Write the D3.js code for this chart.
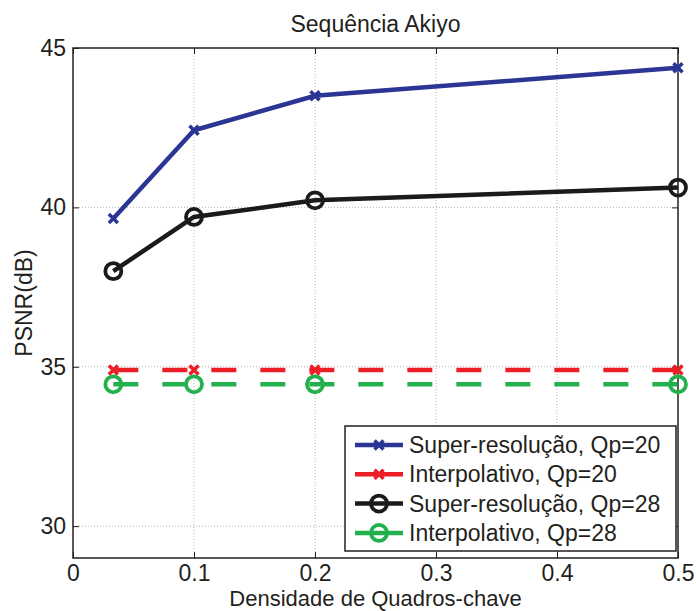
<!DOCTYPE html>
<html lang="pt">
<head>
<meta charset="UTF-8">
<title>Sequência Akiyo</title>
<script src="https://d3js.org/d3.v7.min.js"></script>
<style>
    body { margin: 0; background: #fff; }
    svg text { font-family: "Liberation Sans", Arial, sans-serif; fill: #231f20; }
</style>
</head>
<body>
<svg id="chart" width="696" height="611"></svg>
<script>
    // data
    const densities = [1 / 30, 0.1, 0.2, 0.5];
    const superQp20 = [39.65, 42.42, 43.5, 44.38];
    const interpQp20 = [34.9, 34.9, 34.9, 34.9];
    const superQp28 = [38.0, 39.7, 40.22, 40.62];
    const interpQp28 = [34.45, 34.45, 34.45, 34.45];
    const xTicks = [0, 0.1, 0.2, 0.3, 0.4, 0.5];
    const yTicks = [30, 35, 40, 45];

    const series = [
        { name: "Super-resolução, Qp=20", values: superQp20, color: "#2b3594", marker: "x", dashed: false },
        { name: "Interpolativo, Qp=20", values: interpQp20, color: "#ec1f27", marker: "x", dashed: true },
        { name: "Super-resolução, Qp=28", values: superQp28, color: "#1c1a1b", marker: "o", dashed: false },
        { name: "Interpolativo, Qp=28", values: interpQp28, color: "#22b14c", marker: "o", dashed: true }
    ];

    const margin = { left: 73, right: 18, top: 48, bottom: 53 };
    const W = 696, H = 611;
    const FS = 23;
    const svg = d3.select("#chart");

    const x = d3.scaleLinear().domain([0, 0.5]).range([margin.left, W - margin.right]);
    const y = d3.scaleLinear().domain([29, 45]).range([H - margin.bottom, margin.top]);

    // grid
    const grid = svg.append("g").attr("stroke", "#b5b5b5").attr("stroke-width", 1).attr("stroke-dasharray", "1,2");
    grid.selectAll(".gx").data(xTicks.slice(1, -1)).join("line")
        .attr("x1", d => x(d)).attr("x2", d => x(d))
        .attr("y1", y.range()[0]).attr("y2", y.range()[1]);
    grid.selectAll(".gy").data(yTicks.filter(d => d < 45)).join("line")
        .attr("y1", d => y(d)).attr("y2", d => y(d))
        .attr("x1", x.range()[0]).attr("x2", x.range()[1]);

    // axes (matlab style: inward ticks on all sides)
    const tick = 6;
    svg.append("g").attr("transform", `translate(0,${y(29)})`)
        .call(d3.axisBottom(x).tickValues(xTicks).tickSize(-tick).tickPadding(6.5).tickFormat(d3.format("")))
        .call(g => g.select(".domain").remove());
    svg.append("g").attr("transform", `translate(0,${y(45)})`)
        .call(d3.axisTop(x).tickValues(xTicks).tickSize(-tick).tickFormat(""))
        .call(g => g.select(".domain").remove());
    svg.append("g").attr("transform", `translate(${x(0)},0)`)
        .call(d3.axisLeft(y).tickValues(yTicks).tickSize(-tick).tickPadding(7))
        .call(g => g.select(".domain").remove());
    svg.append("g").attr("transform", `translate(${x(0.5)},0)`)
        .call(d3.axisRight(y).tickValues(yTicks).tickSize(-tick).tickFormat(""))
        .call(g => g.select(".domain").remove());
    svg.selectAll(".tick line").attr("stroke", "#231f20").attr("stroke-width", 1);
    svg.selectAll(".tick text").attr("font-size", FS).attr("fill", "#231f20")
        .style("font-family", "'Liberation Sans', Arial, sans-serif");

    svg.append("rect")
        .attr("x", x(0)).attr("y", y(45))
        .attr("width", x(0.5) - x(0)).attr("height", y(29) - y(45))
        .attr("fill", "none").attr("stroke", "#231f20").attr("stroke-width", 1.5);

    // titles
    svg.append("text").attr("x", (x(0) + x(0.5)) / 2).attr("y", 32)
        .attr("text-anchor", "middle").attr("font-size", FS).text("Sequência Akiyo");
    svg.append("text").attr("x", (x(0) + x(0.5)) / 2).attr("y", 606)
        .attr("text-anchor", "middle").attr("font-size", 22).text("Densidade de Quadros-chave");
    svg.append("text")
        .attr("transform", `translate(32,${(y(29) + y(45)) / 2}) rotate(-90)`)
        .attr("text-anchor", "middle").attr("font-size", FS).text("PSNR(dB)");

    function drawMarker(g, kind, color, cx, cy) {
        if (kind === "x") {
            const s = 4.5;
            g.append("path")
                .attr("d", `M${cx - s},${cy - s}L${cx + s},${cy + s}M${cx - s},${cy + s}L${cx + s},${cy - s}`)
                .attr("stroke", color).attr("stroke-width", 3.5).attr("fill", "none");
        } else {
            g.append("circle").attr("cx", cx).attr("cy", cy).attr("r", 8)
                .attr("stroke", color).attr("stroke-width", 3.8).attr("fill", "none");
        }
    }

    const line = d3.line().x((d, i) => x(densities[i])).y(d => y(d));
    const plot = svg.append("g");
    series.forEach(s => {
        plot.append("path").datum(s.values)
            .attr("d", line)
            .attr("fill", "none").attr("stroke", s.color).attr("stroke-width", 4.5)
            .attr("stroke-dasharray", s.dashed ? "25,24" : null);
        s.values.forEach((v, i) => drawMarker(plot, s.marker, s.color, x(densities[i]), y(v)));
    });

    // legend
    const lg = svg.append("g").attr("transform", "translate(345,426)");
    lg.append("rect").attr("width", 331).attr("height", 125)
        .attr("fill", "#fff").attr("stroke", "#231f20").attr("stroke-width", 1.5);
    series.forEach((s, i) => {
        const ly = 19 + i * 29.3;
        lg.append("line").attr("x1", 10).attr("x2", 58).attr("y1", ly).attr("y2", ly)
            .attr("stroke", s.color).attr("stroke-width", 4.5);
        drawMarker(lg, s.marker, s.color, 34, ly);
        lg.append("text").attr("x", 64).attr("y", ly + 8).attr("font-size", FS).text(s.name);
    });
</script>
</body>
</html>
